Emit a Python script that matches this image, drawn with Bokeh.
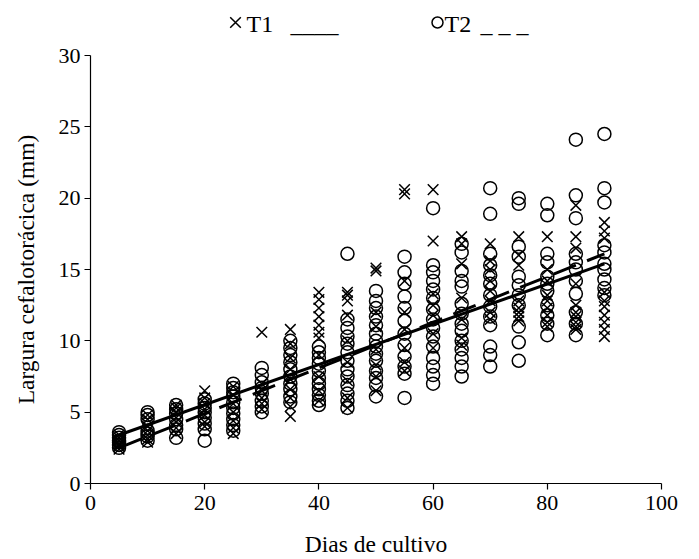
from bokeh.plotting import figure
from bokeh.layouts import column
from bokeh.models import Range1d, FixedTicker
from bokeh.core.properties import value
from bokeh.embed import file_html
from bokeh.resources import INLINE

# ---- data ----
days = [5, 10, 15, 20, 25, 30, 35, 40, 45, 50, 55, 60, 65, 70, 75, 80, 85, 90]

t1_width = [
    [2.4, 2.6, 2.8, 3.0, 3.2, 3.4, 2.7],
    [2.9, 3.1, 3.4, 3.7, 4.0, 4.5, 4.8],
    [3.5, 3.9, 4.3, 4.6, 5.0, 5.3, 5.5],
    [6.5, 6.0, 5.6, 5.2, 4.8, 4.3, 4.0],
    [6.8, 6.2, 5.6, 5.0, 4.4, 3.9, 3.5],
    [10.6, 7.0, 6.5, 6.0, 5.6, 5.2],
    [10.8, 9.8, 8.8, 8.0, 7.3, 6.6, 6.0, 5.4, 4.7],
    [13.4, 12.9, 12.3, 11.7, 11.1, 10.6, 10.2, 9.0, 7.5, 6.5, 5.8],
    [13.4, 13.2, 12.8, 11.8, 10.0, 8.5, 7.2, 6.0, 5.3],
    [15.1, 14.9, 12.0, 11.0, 9.4, 8.3, 7.5, 6.5],
    [20.6, 20.3, 14.2, 12.0, 10.8, 9.5, 8.5, 7.9],
    [20.6, 17.0, 13.3, 12.5, 11.8, 10.5, 9.5],
    [17.3, 16.8, 15.4, 13.0, 11.5, 10.2, 9.7],
    [16.8, 15.6, 15.0, 14.2, 13.5, 12.8, 12.0, 11.5],
    [17.3, 16.0, 15.3, 12.8, 12.3, 12.0, 11.7, 11.4],
    [17.3, 15.0, 14.2, 13.2, 12.8, 12.3, 11.8, 11.3, 11.0],
    [19.5, 17.3, 16.5, 14.0, 12.5, 12.0, 11.7, 11.3, 11.0, 10.8],
    [18.3, 17.7, 17.2, 13.4, 12.8, 12.4, 11.8, 11.3, 10.8, 10.3],
]

t2_width = [
    [2.5, 2.7, 3.0, 3.2, 3.4, 3.6, 2.9],
    [3.0, 3.3, 3.5, 3.7, 4.5, 4.8, 5.0],
    [3.2, 3.8, 4.1, 4.5, 4.9, 5.2, 5.5],
    [5.9, 5.6, 5.3, 5.0, 4.6, 4.2, 3.8, 3.0],
    [7.0, 6.7, 6.4, 6.1, 5.7, 5.3, 4.9, 4.5, 4.1, 3.7],
    [8.1, 7.6, 7.1, 6.7, 6.3, 5.8, 5.4, 5.0],
    [10.0, 9.5, 9.0, 8.5, 8.0, 7.5, 7.0, 6.6, 6.1, 5.7],
    [9.6, 9.2, 8.8, 8.4, 7.9, 7.4, 7.0, 6.6, 6.2, 5.8, 5.5],
    [16.1, 11.5, 10.9, 10.3, 9.8, 9.2, 8.6, 8.0, 7.5, 6.9, 6.3, 5.8, 5.3],
    [13.5, 12.8, 12.3, 11.7, 11.1, 10.5, 10.0, 9.6, 9.1, 8.6, 7.9, 7.4, 6.9, 6.1],
    [15.9, 14.8, 14.0, 13.1, 12.3, 11.4, 10.5, 9.7, 8.9, 8.2, 7.7, 6.0],
    [19.3, 15.3, 14.8, 14.2, 13.6, 13.0, 12.2, 11.5, 10.9, 10.3, 9.6, 8.8, 8.2, 7.6, 7.0],
    [16.8, 16.2, 14.9, 14.2, 13.8, 12.6, 11.9, 11.2, 10.7, 10.0, 9.4, 8.8, 8.2, 7.5],
    [20.7, 18.9, 16.1, 15.3, 14.6, 14.0, 13.2, 12.4, 11.7, 11.1, 9.6, 9.0, 8.2],
    [20.0, 19.6, 16.6, 15.9, 14.5, 13.9, 13.2, 12.5, 11.0, 9.9, 8.6],
    [19.6, 18.8, 16.1, 15.5, 14.5, 14.0, 13.5, 12.5, 11.8, 11.2, 10.4],
    [24.1, 20.2, 18.6, 16.1, 15.5, 15.0, 14.2, 13.3, 12.0, 11.2, 10.4],
    [24.5, 20.7, 19.7, 16.7, 16.2, 15.4, 15.0, 14.3, 13.7, 13.2],
]

fit_days = [5, 90]
t1_fit = [3.4, 15.4]
t2_fit = [2.5, 16.1]

x_ticks = [0, 20, 40, 60, 80, 100]
y_ticks = [0, 5, 10, 15, 20, 25, 30]
legend_labels = ["T1", "T2"]
legend_lines = ["____", "_ _ _"]

FONT = "Liberation Serif"
HEADER_H = 40
LEFT, RIGHT = 90, 38
FRAME_W = 699 - LEFT - RIGHT

t1_x = [d for d, vals in zip(days, t1_width) for _ in vals]
t1_y = [v for vals in t1_width for v in vals]
t2_x = [d for d, vals in zip(days, t2_width) for _ in vals]
t2_y = [v for vals in t2_width for v in vals]

xr = Range1d(0, 100)

# ---------------- header legend (shares the x range; y in pixels, down) ----------------
h = figure(width=699, height=HEADER_H, output_backend="svg", toolbar_location=None,
           x_range=xr, y_range=Range1d(HEADER_H, 0),
           x_axis_location=None, y_axis_location=None)
h.min_border_left = LEFT
h.min_border_right = RIGHT
h.min_border_top = 0
h.min_border_bottom = 0
h.outline_line_color = None
h.xgrid.visible = False
h.ygrid.visible = False
h.border_fill_color = "white"
h.background_fill_color = "white"

def hx(px):
    # header pixel position -> shared x data coordinate
    return (px - LEFT) * 100.0 / FRAME_W

sym_y = 22
base_y = 23
h.scatter(x=[hx(235)], y=[sym_y], marker="x", size=15, line_color="black",
          line_width=1.5)
h.scatter(x=[hx(437)], y=[sym_y], marker="circle", size=11, line_color="black",
          line_width=1.5, fill_color=None)
h.text(x=[hx(246), hx(444)], y=[base_y, base_y], text=legend_labels,
       text_font=value(FONT), text_font_size="24px", text_align="left",
       text_baseline="alphabetic", text_color="black")
h.text(x=[hx(290), hx(480)], y=[base_y, base_y], text=legend_lines,
       text_font=value(FONT), text_font_size="24px", text_align="left",
       text_baseline="alphabetic", text_color="black")

# ---------------- main chart ----------------
p = figure(width=699, height=559 - HEADER_H, output_backend="svg",
           toolbar_location=None, x_range=xr, y_range=Range1d(0, 30))
p.min_border_left = LEFT
p.min_border_right = RIGHT
p.min_border_top = 55 - HEADER_H
p.min_border_bottom = 76
p.outline_line_color = None
p.xgrid.visible = False
p.ygrid.visible = False
p.background_fill_color = "white"
p.border_fill_color = "white"

p.scatter(t1_x, t1_y, marker="x", size=15, line_color="black", line_width=1.5)
p.scatter(t2_x, t2_y, marker="circle", size=13, line_color="black",
          line_width=1.5, fill_color=None)

p.line(fit_days, t1_fit, line_color="black", line_width=3)
p.line(fit_days, t2_fit, line_color="black", line_width=3, line_dash="24 12")

for ax in (p.xaxis[0], p.yaxis[0]):
    ax.axis_line_color = "black"
    ax.axis_line_width = 1.2
    ax.major_tick_line_color = "black"
    ax.major_tick_line_width = 1.2
    ax.major_tick_out = 6
    ax.major_tick_in = 0
    ax.minor_tick_line_color = None
    ax.major_label_text_font = FONT
    ax.major_label_text_font_size = "22px"
    ax.major_label_text_color = "black"
    ax.axis_label_text_font = FONT
    ax.axis_label_text_font_size = "23.5px"
    ax.axis_label_text_font_style = "normal"
    ax.axis_label_text_color = "black"

p.xaxis[0].ticker = FixedTicker(ticks=x_ticks)
p.yaxis[0].ticker = FixedTicker(ticks=y_ticks)
p.xaxis[0].axis_label = "Dias de cultivo"
p.yaxis[0].axis_label = "Largura cefalotorácica (mm)"
p.xaxis[0].major_label_standoff = 6
p.yaxis[0].major_label_standoff = 4
p.xaxis[0].axis_label_standoff = 18
p.yaxis[0].axis_label_standoff = 17

layout = column(h, p, spacing=0)
open("out.html", "w").write(file_html(layout, INLINE))
